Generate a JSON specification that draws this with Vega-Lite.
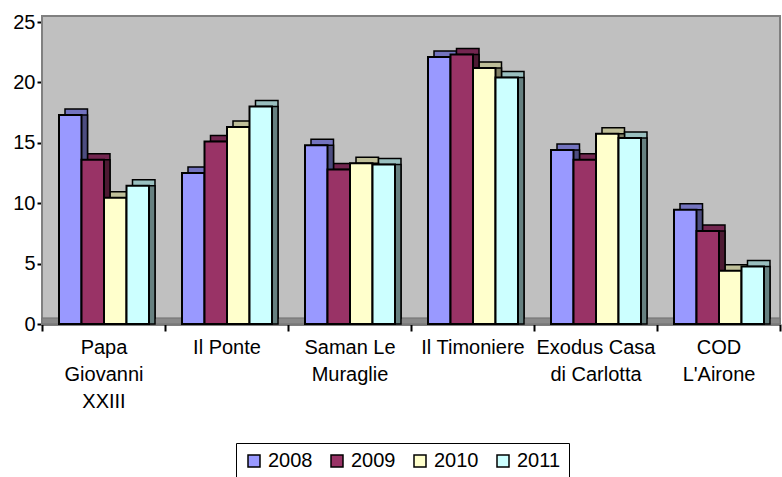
{
  "$schema": "https://vega.github.io/schema/vega-lite/v6.json",
  "width": 738,
  "height": 302,
  "autosize": {"type": "none"},
  "padding": {"left": 42, "top": 22, "right": 2, "bottom": 153},
  "background": "white",
  "config": {
    "font": "Liberation Sans",
    "view": {"fill": "#C0C0C0", "stroke": null},
    "axisY": {
      "labelFont": "Liberation Sans",
      "labelFontSize": 20,
      "labelColor": "black",
      "labelPadding": 2,
      "tickSize": 5,
      "tickColor": "black",
      "tickWidth": 2,
      "domainColor": "black",
      "domainWidth": 2,
      "grid": false,
      "title": null
    }
  },
  "datasets": {
    "wall": [{"bottom": 0, "top": 25.5, "floor": 0.5}],
    "counts": [
      {"site": "Papa Giovanni XXIII", "year": "2008", "value": 17.3},
      {"site": "Papa Giovanni XXIII", "year": "2009", "value": 13.6},
      {"site": "Papa Giovanni XXIII", "year": "2010", "value": 10.45},
      {"site": "Papa Giovanni XXIII", "year": "2011", "value": 11.45},
      {"site": "Il Ponte", "year": "2008", "value": 12.5},
      {"site": "Il Ponte", "year": "2009", "value": 15.1},
      {"site": "Il Ponte", "year": "2010", "value": 16.3},
      {"site": "Il Ponte", "year": "2011", "value": 18.0},
      {"site": "Saman Le Muraglie", "year": "2008", "value": 14.8},
      {"site": "Saman Le Muraglie", "year": "2009", "value": 12.8},
      {"site": "Saman Le Muraglie", "year": "2010", "value": 13.3},
      {"site": "Saman Le Muraglie", "year": "2011", "value": 13.2},
      {"site": "Il  Timoniere", "year": "2008", "value": 22.1},
      {"site": "Il  Timoniere", "year": "2009", "value": 22.3},
      {"site": "Il  Timoniere", "year": "2010", "value": 21.2},
      {"site": "Il  Timoniere", "year": "2011", "value": 20.4},
      {"site": "Exodus Casa di Carlotta", "year": "2008", "value": 14.4},
      {"site": "Exodus Casa di Carlotta", "year": "2009", "value": 13.6},
      {"site": "Exodus Casa di Carlotta", "year": "2010", "value": 15.75},
      {"site": "Exodus Casa di Carlotta", "year": "2011", "value": 15.4},
      {"site": "COD L'Airone", "year": "2008", "value": 9.45},
      {"site": "COD L'Airone", "year": "2009", "value": 7.7},
      {"site": "COD L'Airone", "year": "2010", "value": 4.4},
      {"site": "COD L'Airone", "year": "2011", "value": 4.75}
    ]
  },
  "layer": [
    {
      "data": {"name": "wall"},
      "mark": {"type": "rect", "fill": "#C0C0C0", "stroke": "#808080", "strokeWidth": 2},
      "encoding": {
        "y": {"field": "bottom", "type": "quantitative", "scale": {"domain": [0, 25], "nice": false}, "title": null, "axis": {"values": [0, 5, 10, 15, 20, 25]}},
        "y2": {"field": "top"}
      }
    },
    {
      "data": {"name": "wall"},
      "mark": {"type": "rect", "fill": "#8A8A8A", "stroke": "#707070", "strokeWidth": 1},
      "encoding": {
        "y": {"field": "bottom", "type": "quantitative", "scale": {"domain": [0, 25], "nice": false}, "title": null, "axis": {"values": [0, 5, 10, 15, 20, 25]}},
        "y2": {"field": "floor"}
      }
    },
    {
      "data": {"name": "counts"},
      "encoding": {
        "x": {
          "field": "site",
          "type": "nominal",
          "sort": ["Papa Giovanni XXIII", "Il Ponte", "Saman Le Muraglie", "Il  Timoniere", "Exodus Casa di Carlotta", "COD L'Airone"],
          "scale": {"paddingInner": 0, "paddingOuter": 0},
          "title": null,
          "axis": {
            "labelAngle": 0,
            "labelFont": "Liberation Sans",
            "labelFontSize": 20,
            "labelColor": "black",
            "labelLineHeight": 27,
            "labelPadding": 6,
            "labelAlign": "center",
            "labelExpr": "datum.value === 'Papa Giovanni XXIII' ? ['Papa', 'Giovanni', 'XXIII'] : datum.value === 'Saman Le Muraglie' ? ['Saman Le', 'Muraglie'] : datum.value === 'Exodus Casa di Carlotta' ? ['Exodus Casa', 'di Carlotta'] : datum.value === \"COD L'Airone\" ? ['COD', \"L'Airone\"] : datum.value",
            "tickBand": "extent",
            "tickSize": 7,
            "tickColor": "black",
            "tickWidth": 2,
            "domainColor": "black",
            "domainWidth": 2,
            "grid": false
          }
        },
        "y": {
          "field": "value",
          "type": "quantitative",
          "scale": {"domain": [0, 25], "nice": false},
          "title": null,
          "axis": {"values": [0, 5, 10, 15, 20, 25]}
        }
      },
      "layer": [
        {
          "mark": {"type": "bar", "yOffset": -6, "stroke": "black", "strokeWidth": 1.5},
          "encoding": {
            "xOffset": {"field": "year", "type": "nominal", "scale": {"range": [23, 113], "paddingInner": 0, "paddingOuter": 0}},
            "color": {
              "field": "year",
              "type": "nominal",
              "scale": {"domain": ["2008", "2009", "2010", "2011"], "range": ["#7373BF", "#732650", "#BFBF99", "#99BFBF"]},
              "legend": null
            }
          }
        },
        {
          "mark": {"type": "bar", "stroke": "black", "strokeWidth": 1.5},
          "encoding": {
            "xOffset": {"field": "year", "type": "nominal", "scale": {"range": [23, 113], "paddingInner": 0, "paddingOuter": 0}},
            "color": {
              "field": "year",
              "type": "nominal",
              "scale": {"domain": ["2008", "2009", "2010", "2011"], "range": ["#4D4D80", "#4D1A33", "#808066", "#668080"]},
              "legend": null
            }
          }
        },
        {
          "mark": {"type": "bar", "stroke": "black", "strokeWidth": 2},
          "encoding": {
            "xOffset": {"field": "year", "type": "nominal", "scale": {"range": [17, 107], "paddingInner": 0, "paddingOuter": 0}},
            "color": {
              "field": "year",
              "type": "nominal",
              "scale": {"domain": ["2008", "2009", "2010", "2011"], "range": ["#9999FF", "#993366", "#FFFFCC", "#CCFFFF"]},
              "legend": {
                "title": null,
                "orient": "none",
                "direction": "horizontal",
                "legendX": 194,
                "legendY": 421,
                "fillColor": "white",
                "strokeColor": "black",
                "padding": 8,
                "symbolType": "square",
                "symbolSize": 144,
                "symbolStrokeColor": "black",
                "symbolStrokeWidth": 1.5,
                "labelFont": "Liberation Sans",
                "labelFontSize": 20,
                "labelColor": "black",
                "labelOffset": 4,
                "columnPadding": 14
              }
            }
          }
        }
      ],
      "resolve": {"scale": {"xOffset": "independent", "color": "independent"}}
    }
  ]
}
